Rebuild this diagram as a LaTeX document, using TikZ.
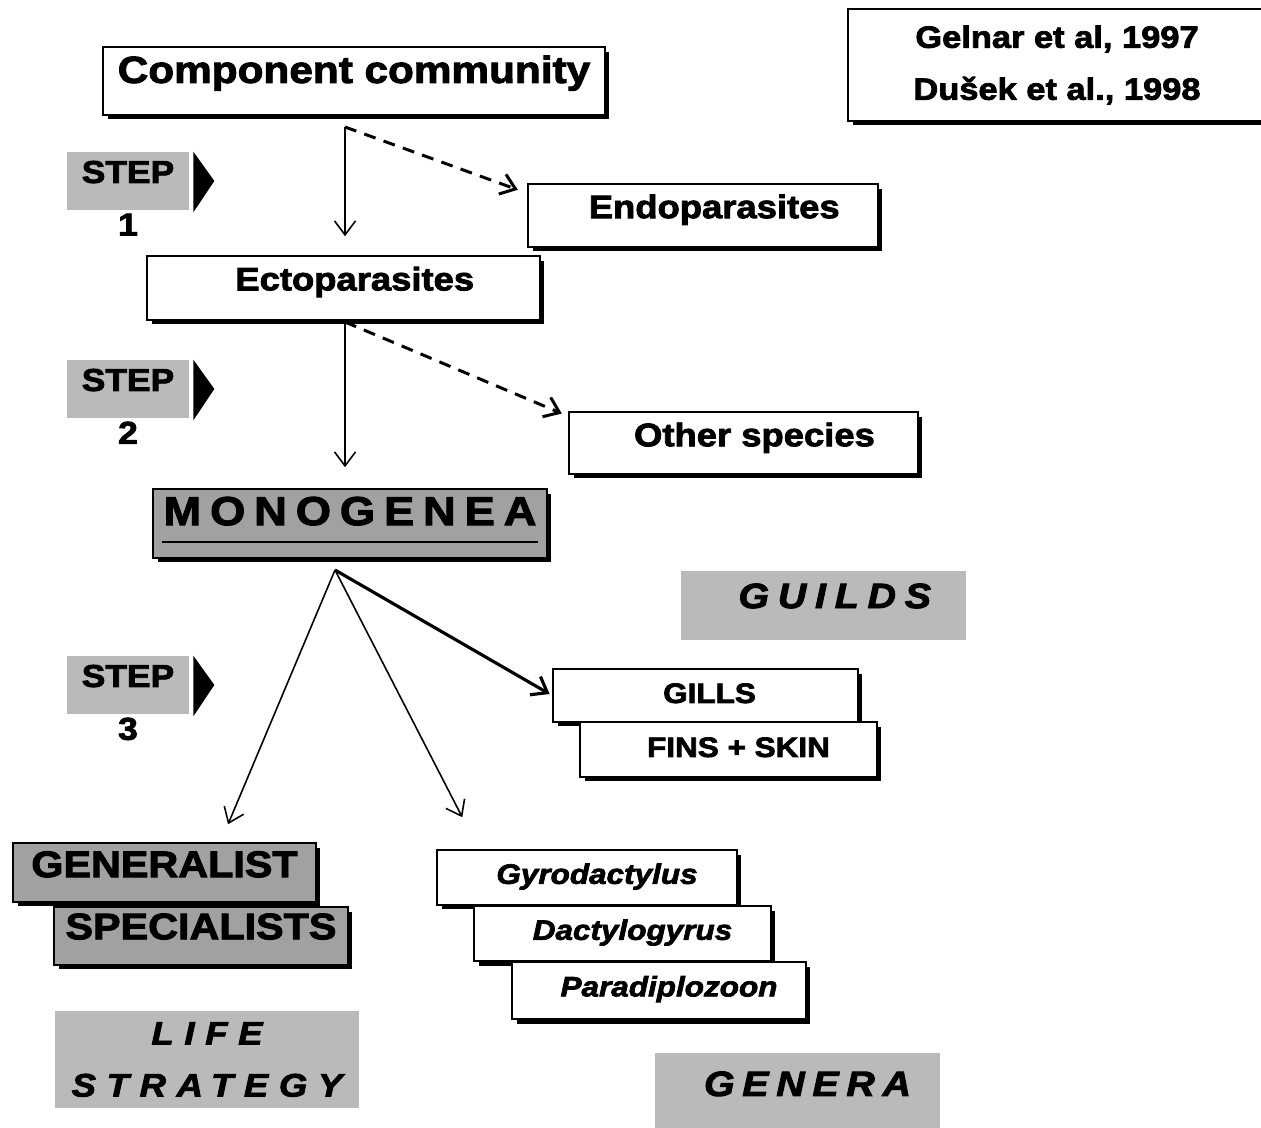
\documentclass[tikz,border=0pt]{standalone}
\usepackage{fontspec}
\setmainfont{Liberation Sans}[FakeStretch=1.12, FakeBold=2.5]
\usepackage{tikz}
\usetikzlibrary{arrows.meta}
\usetikzlibrary{shadows}
\usetikzlibrary{positioning}

\begin{document}
\begin{tikzpicture}[x=0.02cm, y=-0.02cm]
				\tikzset{box/.style = {shape=rectangle, draw, line width=0.9pt, fill=white,
						drop shadow={shadow xshift=0.09cm, shadow yshift=-0.09cm, fill=black, opacity=1},
						inner sep = 0pt}}
				\tikzset{darkbox/.style = {box, fill=black!37}}
				\tikzset{panel/.style = {shape=rectangle, fill=black!27, inner sep = 0pt}}
				\tikzset{stepbox/.style = {shape=rectangle, fill=black!27, minimum width=2.44cm,
						minimum height=1.16cm, inner sep = 0pt, text height=0.72em, text depth=0.5em,
						font=\fontsize{18}{20}\selectfont\bfseries}}
				\tikzset{lifted/.style = {text height=0.72em, text depth=#1}}
				\tikzset{textshift/.style = {execute at begin node=\hspace*{#1}}}
				\tikzset{medium/.style = {font=\fontsize{18.5}{22}\selectfont\bfseries}}
				\tikzset{small/.style = {font=\fontsize{16}{19}\selectfont\bfseries}}
				\tikzset{genus/.style = {font=\fontsize{16}{19}\selectfont\bfseries\itshape}}
				\tikzset{edge/.style = {-{Straight Barb[length=0.28cm, width=0.42cm]}, line width=0.9pt}}
				\tikzset{edgedash/.style = {edge, line width=1.7pt, dash pattern=on 0.24cm off 0.17cm}}
				
				\useasboundingbox (0,0) rectangle (1261,1128);
				
				% boxes
				\node[box, minimum width=10.04cm, minimum height=1.36cm, lifted=0.5em,
					font=\fontsize{21.5}{24}\selectfont\bfseries] (comp) at (354,81) {Component community};
				\node[box, medium, minimum width=7cm, minimum height=1.26cm, lifted=0.42em,
					textshift=0.45cm] (endo) at (703,215.5) {Endoparasites};
				\node[box, medium, minimum width=7.86cm, minimum height=1.28cm, lifted=0.45em,
					textshift=0.45cm] (ecto) at (343.5,288) {Ectoparasites};
				\node[box, medium, minimum width=6.98cm, minimum height=1.24cm, lifted=0.35em,
					textshift=0.44cm] (other) at (743.5,443) {Other species};
				\node[darkbox, minimum width=7.88cm, minimum height=1.38cm, lifted=0.54em,
					font=\fontsize{23}{26}\selectfont\bfseries\addfontfeatures{LetterSpace=22}]
					(mono) at (350,523.5) {MONOGENEA};
				\draw[line width=0.9pt] ([xshift=0.2cm, yshift=0.34cm]mono.south west)
					-- ([xshift=-0.2cm, yshift=0.34cm]mono.south east);
				
				\node[box, small, minimum width=6.1cm, minimum height=1.06cm, text height=0.85em,
					text depth=0pt, textshift=0.16cm] (gills) at (705.5,695.5) {GILLS};
				\node[box, small, minimum width=5.94cm, minimum height=1.1cm, text height=0.85em,
					text depth=0pt, textshift=0.4cm] (fins) at (728.5,749.5) {FINS + SKIN};
				
				\node[darkbox, minimum width=6.06cm, minimum height=1.18cm, lifted=0.2em,
					font=\fontsize{21}{24}\selectfont\bfseries] (gen) at (164.5,872.5) {GENERALIST};
				\node[darkbox, minimum width=5.88cm, minimum height=1.16cm, lifted=0.35em,
					font=\fontsize{21}{24}\selectfont\bfseries] (spec) at (201,936) {SPECIALISTS};
				
				\node[box, genus, minimum width=6cm, minimum height=1.1cm, lifted=0em,
					textshift=0.4cm] (gyro) at (587,877.5) {Gyrodactylus};
				\node[box, genus, minimum width=5.94cm, minimum height=1.1cm, lifted=0em,
					textshift=0.4cm] (dact) at (622.5,933.5) {Dactylogyrus};
				\node[box, genus, minimum width=5.88cm, minimum height=1.14cm, lifted=0.05em,
					textshift=0.4cm] (para) at (659,990.5) {Paradiplozoon};
				
				\node[box, minimum width=8.36cm, minimum height=2.24cm, align=center,
					font=\fontsize{17.5}{29.6}\selectfont\bfseries] (ref) at (1057,65)
					{Gelnar et al, 1997\\Du\v{s}ek et al., 1998};
				
				% panels
				\node[panel, minimum width=5.7cm, minimum height=1.38cm, lifted=0.43em, textshift=0.45cm,
					font=\fontsize{20}{24}\selectfont\bfseries\itshape\addfontfeatures{LetterSpace=25}]
					(guilds) at (823.5,605.5) {GUILDS};
				\node[panel, minimum width=6.08cm, minimum height=1.94cm, align=center,
					font=\fontsize{18.5}{29.6}\selectfont\bfseries\itshape\addfontfeatures{LetterSpace=33}]
					(life) at (207,1059.5) {LIFE\\STRATEGY};
				\node[panel, minimum width=5.7cm, minimum height=1.5cm, lifted=0.1em, textshift=0.4cm,
					font=\fontsize{20}{24}\selectfont\bfseries\itshape\addfontfeatures{LetterSpace=22}]
					(genera) at (797.5,1090.5) {GENERA};
				
				% steps
				\node[stepbox] (s1) at (128,181) {STEP};
				\node[stepbox] (s2) at (128,389) {STEP};
				\node[stepbox] (s3) at (128,685) {STEP};
				\node[below=0.06cm of s1, inner sep=0pt, font=\fontsize{18}{20}\selectfont\bfseries] (n1) {1};
				\node[below=0.06cm of s2, inner sep=0pt, font=\fontsize{18}{20}\selectfont\bfseries] (n2) {2};
				\node[below=0.06cm of s3, inner sep=0pt, font=\fontsize{18}{20}\selectfont\bfseries] (n3) {3};
				\fill ([xshift=0.08cm]s1.north east) -- ([xshift=0.5cm]s1.east)
					-- ([xshift=0.08cm, yshift=-0.04cm]s1.south east) -- cycle;
				\fill ([xshift=0.08cm]s2.north east) -- ([xshift=0.5cm]s2.east)
					-- ([xshift=0.08cm, yshift=-0.04cm]s2.south east) -- cycle;
				\fill ([xshift=0.08cm]s3.north east) -- ([xshift=0.5cm]s3.east)
					-- ([xshift=0.08cm, yshift=-0.04cm]s3.south east) -- cycle;
				
				%edges
				\coordinate (c1) at (345,127);
				\coordinate (c2) at (345,322);
				\coordinate (c3) at (335,570);
				
				\draw[edge, shorten >=0.38cm] (c1) -- (c1 |- ecto.north);
				\draw[edgedash, shorten >=0.2cm] (c1) -- ([yshift=-0.2cm]endo.north west);
				\draw[edge, shorten >=0.42cm] (c2) -- (c2 |- mono.north);
				\draw[edgedash, shorten >=0.14cm] (c2) -- ([yshift=-0.1cm]other.north west);
				\draw[edge, shorten >=0.39cm] (c3) -- ([xshift=1.12cm]gen.north);
				\draw[edge, shorten >=0.72cm] (c3) -- ([xshift=0.85cm]gyro.north west);
				\draw[edge, line width=1.8pt, shorten >=0.06cm] (c3) -- (gills.west);
				
\end{tikzpicture}
\end{document}
